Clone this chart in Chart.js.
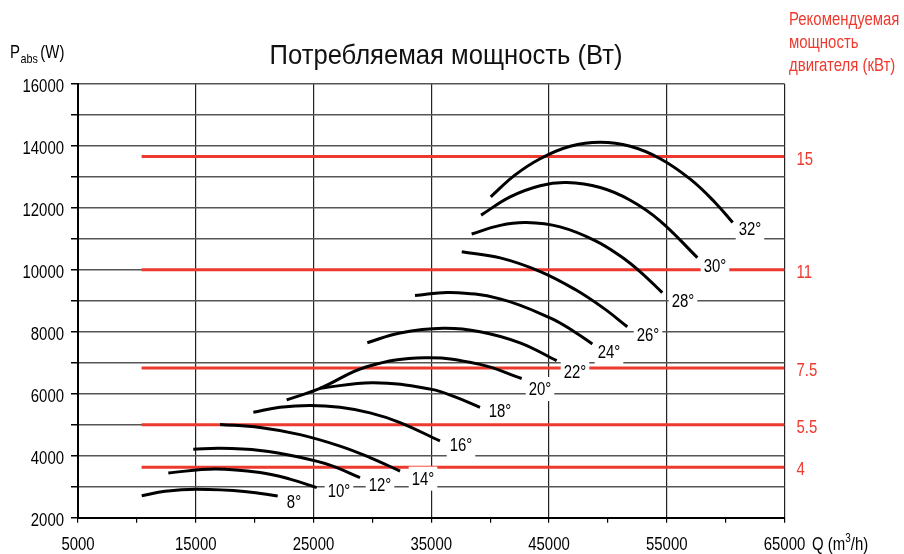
<!DOCTYPE html>
<html><head><meta charset="utf-8">
<script src="https://cdn.jsdelivr.net/npm/chart.js@4.4.1/dist/chart.umd.min.js"></script>
<style>html,body{margin:0;padding:0;background:#fff}#wrap{width:904px;height:554px;position:relative}</style>
</head><body><div id="wrap"><canvas id="c" width="904" height="554"></canvas></div>
<script>
// ---- data ----
const curveNames = ['8°','10°','12°','14°','16°','18°','20°','22°','24°','26°','28°','30°','32°'];
const q8  = [10410, 12390, 15080, 19330, 21960];
const p8  = [2710, 2850, 2915, 2840, 2700];
const q10 = [12670, 16630, 20460, 23000, 25270];
const p10 = [3445, 3570, 3455, 3245, 2970];
const q12 = [14790, 17060, 20460, 23850, 26400, 28950];
const p12 = [4205, 4240, 4170, 3950, 3695, 3290];
const q14 = [17060, 20460, 23850, 27250, 29800, 32350];
const p14 = [5010, 4910, 4680, 4310, 3940, 3505];
const q16 = [19890, 22150, 24700, 27250, 29800, 32350, 35740];
const p16 = [5400, 5560, 5620, 5560, 5380, 5070, 4475];
const q18 = [25550, 30080, 35040, 37020, 39140];
const p18 = [6175, 6355, 6140, 5895, 5560];
const q20 = [22720, 25550, 29520, 34470, 39140, 42680];
const p20 = [5800, 6175, 6870, 7160, 6945, 6490];
const q22 = [29570, 32350, 36020, 39140, 42540, 45650];
const p22 = [7645, 7960, 8110, 8000, 7640, 7065];
const q24 = [33620, 36590, 40840, 45090, 47210, 48680];
const p24 = [9165, 9265, 9060, 8445, 7985, 7605];
const q26 = [37590, 40860, 44260, 47230, 49630, 51650];
const p26 = [10580, 10380, 9940, 9360, 8760, 8160];
const q28 = [38430, 40860, 43080, 45940, 48910, 51030, 52730, 54620];
const p28 = [11150, 11430, 11520, 11380, 10940, 10450, 9940, 9260];
const q30 = [39230, 41700, 44250, 46500, 49350, 51900, 54450, 57600];
const p30 = [11760, 12350, 12710, 12810, 12650, 12240, 11570, 10390];
const q32 = [40050, 42100, 44250, 46800, 49350, 51900, 54450, 57000, 59100, 60600];
const p32 = [12350, 13050, 13580, 13980, 14110, 13980, 13580, 12920, 12170, 11520];
const curvesQ = [q8,q10,q12,q14,q16,q18,q20,q22,q24,q26,q28,q30,q32];
const curvesP = [p8,p10,p12,p14,p16,p18,p20,p22,p24,p26,p28,p30,p32];
// curve label anchors (data units)
const labelQ = [23344, 27166, 30648, 34299, 37527, 40839, 44236, 47208, 50096, 53408, 56380, 59098, 62070];
const labelP = [2506, 2861, 3055, 3260, 4345, 5442, 6152, 6700, 7345, 7894, 8990, 10119, 11313];
// recommended motor power lines
const motorKW = ['15', '11', '7.5', '5.5', '4'];
const motorP  = [13650, 10000, 6830, 5000, 3630];
const motorQStart = 10400;
const motorQEnd = 65000;
// axes
const xMin = 5000, xMax = 65000, yMin = 2000, yMax = 16000;
const xStep = 5000, yStep = 1000;
const titleText = 'Потребляемая мощность (Вт)';
const rightTitle = ['Рекомендуемая', 'мощность', 'двигателя (кВт)'];

const FONT = '"Liberation Sans", Arial, sans-serif';
const NARROW = 0.83;
const RED = '#ee3a2e';

const datasets = [];
curvesQ.forEach((qs, i) => {
  datasets.push({
    label: curveNames[i],
    data: qs.map((q, j) => ({x: q, y: curvesP[i][j]})),
    borderColor: '#000', borderWidth: 3, pointRadius: 0,
    tension: 0.4, fill: false, order: 1
  });
});
motorP.forEach((p, i) => {
  datasets.push({
    label: motorKW[i] + ' kW',
    data: [{x: motorQStart, y: p}, {x: motorQEnd, y: p}],
    borderColor: RED, borderWidth: 3, pointRadius: 0, fill: false, order: 2
  });
});

function nText(ctx, text, x, y, align, scale) {
  const s = scale || NARROW;
  ctx.save();
  ctx.translate(x, y);
  ctx.scale(s, 1);
  ctx.textAlign = align;
  ctx.fillText(text, 0, 0);
  ctx.restore();
  return ctx.measureText(text).width * s;
}

const textPlugin = {
  id: 'texts',
  afterDatasetsDraw(chart) {
    const ctx = chart.ctx, xs = chart.scales.x, ys = chart.scales.y, ca = chart.chartArea;
    ctx.save();
    ctx.textBaseline = 'middle';
    // curve labels with white boxes
    ctx.font = '18px ' + FONT;
    curveNames.forEach((n, i) => {
      const px = xs.getPixelForValue(labelQ[i]);
      const py = ys.getPixelForValue(labelP[i]);
      const w = ctx.measureText(n).width * NARROW;
      ctx.fillStyle = '#fff';
      ctx.fillRect(px - w / 2 - 3, py - 12, w + 6, 24);
      ctx.fillStyle = '#000';
      nText(ctx, n, px, py + 1, 'center');
    });
    // tick labels
    ctx.fillStyle = '#000';
    ys.ticks.forEach(t => {
      if (t.value % 2000 === 0) nText(ctx, String(t.value), 64, ys.getPixelForValue(t.value) + 3, 'right');
    });
    xs.ticks.forEach(t => {
      if (t.value % 10000 === 5000) nText(ctx, String(t.value), xs.getPixelForValue(t.value), 545, 'center');
    });
    // red motor labels
    ctx.fillStyle = RED;
    motorKW.forEach((k, i) => {
      nText(ctx, k, ca.right + 12, ys.getPixelForValue(motorP[i]) + 3, 'left');
    });
    // right header
    rightTitle.forEach((t, i) => nText(ctx, t, 789, 20 + i * 23, 'left'));
    // title
    ctx.fillStyle = '#111';
    ctx.font = '28px ' + FONT;
    nText(ctx, titleText, 446, 56, 'center', 0.915);
    // y axis title P_abs (W)
    ctx.fillStyle = '#000';
    ctx.font = '18px ' + FONT;
    let x0 = 10;
    x0 += nText(ctx, 'P', x0, 53, 'left');
    ctx.font = '13px ' + FONT;
    x0 += nText(ctx, 'abs', x0 + 0.5, 59, 'left') + 3;
    ctx.font = '18px ' + FONT;
    nText(ctx, '(W)', x0, 53, 'left');
    // x axis title Q (m3/h)
    let x1 = 812;
    const yb = 545;
    x1 += nText(ctx, 'Q (m', x1, yb, 'left');
    ctx.font = '12px ' + FONT;
    x1 += nText(ctx, '3', x1, yb - 6, 'left');
    ctx.font = '18px ' + FONT;
    nText(ctx, '/h)', x1, yb, 'left');
    ctx.restore();
  }
};

new Chart(document.getElementById('c'), {
  type: 'line',
  data: { datasets },
  options: {
    responsive: false, animation: false, devicePixelRatio: 1,
    layout: { padding: { top: 83.7, right: 119.5, left: 0, bottom: 0 } },
    plugins: { legend: { display: false }, tooltip: { enabled: false }, title: { display: false } },
    scales: {
      x: {
        type: 'linear', min: xMin, max: xMax,
        afterFit(s) { s.height = 36.3; },
        border: { color: '#000', width: 2 },
        grid: {
          color: c => (c.tick && c.tick.value % 10000 === 5000) ? '#222' : 'rgba(0,0,0,0)',
          lineWidth: 1.2, tickColor: '#000', tickLength: 5, drawTicks: true
        },
        ticks: { stepSize: xStep, autoSkip: false, maxRotation: 0, callback: () => '' }
      },
      y: {
        type: 'linear', min: yMin, max: yMax,
        afterFit(s) { s.width = 78; },
        border: { color: '#000', width: 2 },
        grid: { color: '#555', lineWidth: 1.5, tickColor: '#000', tickLength: 7 },
        ticks: { stepSize: yStep, autoSkip: false, callback: () => '' }
      }
    }
  },
  plugins: [textPlugin]
});
</script>
</body></html>
